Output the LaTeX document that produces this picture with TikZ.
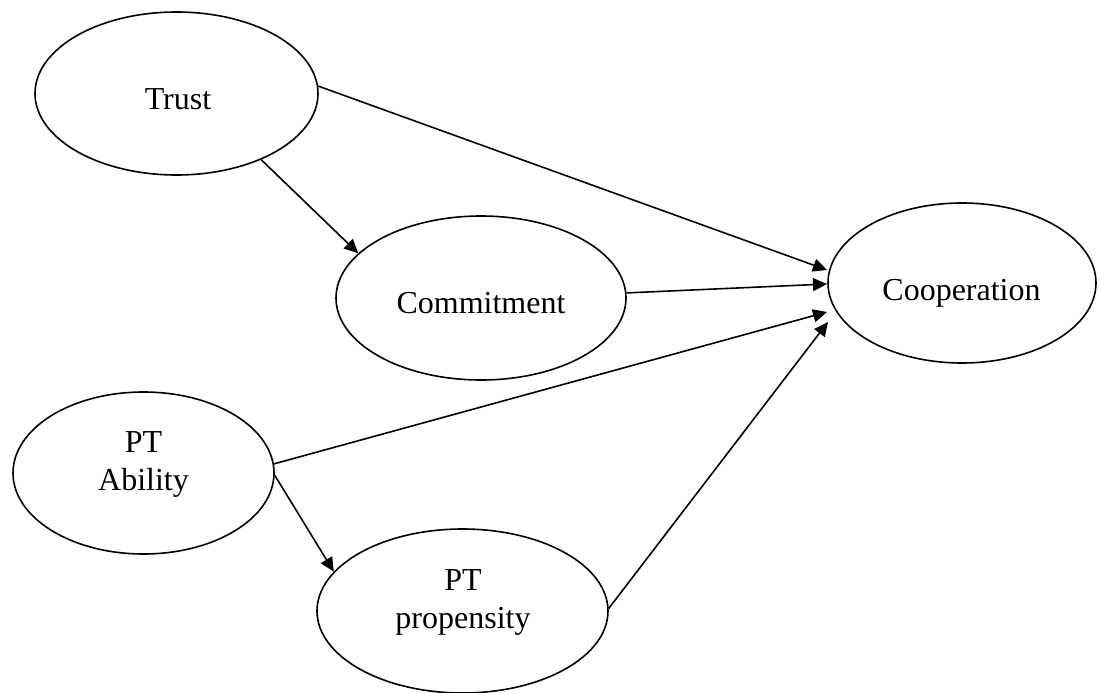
\documentclass[tikz,border=0pt]{standalone}
\usepackage{fontspec}
\setmainfont{Liberation Serif}
\usetikzlibrary{shapes.geometric,arrows.meta}
\begin{document}
\begin{tikzpicture}[x=1pt,y=-1pt,
  var/.style={draw,ellipse,line width=1.6pt,inner sep=0pt},
  lbl/.style={inner sep=0pt,align=center,font=\fontsize{32}{38}\selectfont},
  link/.style={line width=1.6pt,-{Triangle[length=14pt,width=13pt]}}]
\useasboundingbox (0,0) rectangle (1101,693);
\node[var,minimum width=283,minimum height=163] (trust) at (176.5,93.5) {};
\node[var,minimum width=290,minimum height=164] (commit) at (481,298) {};
\node[var,minimum width=268,minimum height=160] (coop) at (962,283) {};
\node[var,minimum width=261,minimum height=162] (ability) at (143.5,473) {};
\node[var,minimum width=291,minimum height=164] (prop) at (462.5,611) {};
\node[lbl,anchor=base] (trustT) at (178,110) {Trust};
\node[lbl,anchor=base] (commitT) at (481,313) {Commitment};
\node[lbl,anchor=base] (coopT) at (961.5,300) {Cooperation};
\node[lbl] (abilityT) at (143.5,464) {PT\\Ability};
\node[lbl] (propT) at (463,602) {PT\\propensity};
\coordinate (c1) at ([shift={(-135,-13)}]coop.center);
\coordinate (c2) at ([shift={(-135,1)}]coop.center);
\coordinate (c3) at ([shift={(-135,29)}]coop.center);
\coordinate (c4) at ([shift={(-134,39)}]coop.center);
\draw[link] (trust.3) -- (c1);
\draw[link] (trust.-38) -- (commit.160);
\draw[link] (commit.2) -- (c2);
\draw[link] (ability.4) -- (c3);
\draw[link] (ability.-1) -- (prop.163);
\draw[link] (prop.1) -- (c4);
\end{tikzpicture}
\end{document}
